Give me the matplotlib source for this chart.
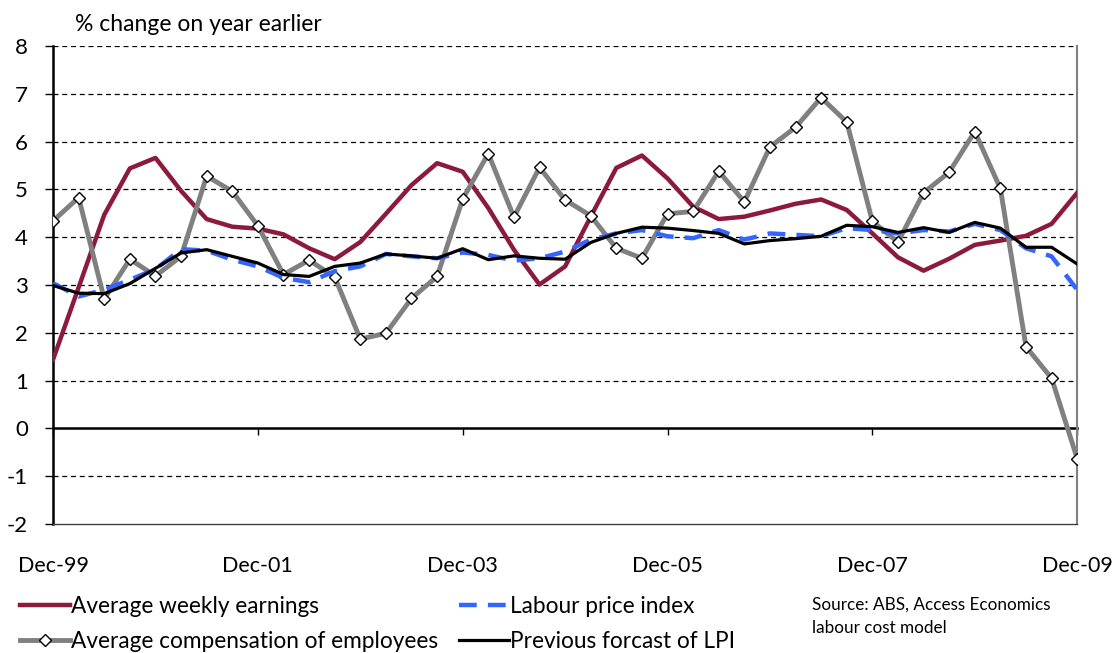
import matplotlib
matplotlib.use("Agg")
import matplotlib.pyplot as plt
import numpy as np

plt.rcParams['font.family'] = ['Lato', 'DejaVu Sans']
plt.rcParams['axes.unicode_minus'] = False

# quarterly, Dec-99 .. Dec-09
quarters = np.arange(41)
tick_pos = [0, 8, 16, 24, 32, 40]
tick_labels = ["Dec-99", "Dec-01", "Dec-03", "Dec-05", "Dec-07", "Dec-09"]

awe = [1.44, 2.95, 4.47, 5.44, 5.66, 4.97, 4.38, 4.22, 4.18, 4.06,
       3.77, 3.54, 3.90, 4.49, 5.09, 5.55, 5.37, 4.61, 3.74, 3.01,
       3.39, 4.43, 5.45, 5.71, 5.23, 4.64, 4.38, 4.43, 4.56, 4.70,
       4.79, 4.57, 4.08, 3.58, 3.30, 3.55, 3.84, 3.93, 4.03, 4.28, 4.93]

lpi = [3.04, 2.76, 2.90, 3.11, 3.33, 3.75, 3.72, 3.53, 3.39, 3.15,
       3.06, 3.29, 3.39, 3.65, 3.60, 3.56, 3.68, 3.63, 3.51, 3.56,
       3.70, 3.95, 4.08, 4.15, 4.02, 3.98, 4.15, 3.95, 4.08, 4.05,
       4.02, 4.19, 4.15, 4.08, 4.15, 4.12, 4.28, 4.15, 3.77, 3.60, 2.90]

ace = [4.34, 4.83, 2.71, 3.54, 3.19, 3.60, 5.28, 4.96, 4.24, 3.22,
       3.52, 3.17, 1.87, 1.99, 2.72, 3.18, 4.80, 5.75, 4.42, 5.46,
       4.78, 4.45, 3.77, 3.56, 4.49, 4.54, 5.38, 4.74, 5.89, 6.30,
       6.92, 6.41, 4.33, 3.90, 4.93, 5.36, 6.21, 5.02, 1.71, 1.05, -0.63]

prev_lpi = [2.99, 2.83, 2.82, 3.03, 3.35, 3.67, 3.74, 3.60, 3.46, 3.22,
            3.18, 3.39, 3.46, 3.65, 3.61, 3.56, 3.76, 3.53, 3.61, 3.56,
            3.54, 3.89, 4.08, 4.21, 4.19, 4.14, 4.08, 3.86, 3.93, 3.97,
            4.02, 4.25, 4.22, 4.10, 4.20, 4.10, 4.31, 4.19, 3.79, 3.79, 3.44]

fig = plt.figure(figsize=(11.12, 6.53), dpi=100)
ax = fig.add_axes([0.0477, 0.1975, 0.921, 0.732])

l_awe, = ax.plot(quarters, awe, color="#8B1A3C", lw=3.2, zorder=3,
                 label="Average weekly earnings")
l_ace, = ax.plot(quarters, ace, color="#808080", lw=3.5, marker="D", ms=6.5,
                 mfc="white", mec="black", mew=1.0, zorder=4,
                 label="Average compensation of employees")
l_lpi, = ax.plot(quarters, lpi, color="#3366FF", lw=3.2, ls=(0, (4, 2.5)),
                 zorder=5, label="Labour price index")
l_prev, = ax.plot(quarters, prev_lpi, color="black", lw=2.3, zorder=6,
                  label="Previous forcast of LPI")

ax.set_xlim(0, 40)
ax.set_ylim(-2, 8)
ax.set_yticks(range(-2, 9))
ax.tick_params(axis="y", labelsize=16, length=6, width=1, direction="out", pad=12)
for g in range(-1, 9):
    if g != 0:
        ax.axhline(g, color="black", lw=0.9, ls=(0, (4, 3)), zorder=1)

ax.set_xticks(tick_pos)
ax.set_xticklabels(tick_labels, fontsize=15.5)
ax.tick_params(axis="x", length=0, pad=23)

# zero line carries the category ticks
sec = ax.secondary_xaxis(0.2)
sec.set_xticks(tick_pos)
sec.set_xticklabels([])
sec.tick_params(length=5, width=1, direction="out")
sec.spines["bottom"].set_linewidth(1.8)
sec.spines["bottom"].set_color("black")

ax.spines["top"].set_visible(False)
ax.spines["left"].set_linewidth(1.8)
ax.spines["right"].set_color("#808080")
ax.spines["right"].set_linewidth(1.5)
ax.spines["bottom"].set_color("#404040")
ax.spines["bottom"].set_linewidth(1.0)

fig.text(0.067, 0.962, "% change on year earlier", fontsize=16.5, va="center")

fig.legend(handles=[l_awe, l_ace, l_lpi, l_prev], ncol=2, loc="upper left",
           bbox_to_anchor=(0.0, 0.118), frameon=False, fontsize=16.3,
           handlelength=2.2, handletextpad=0.05, columnspacing=0.9,
           labelspacing=0.6, borderpad=0.4)

fig.text(0.73, 0.031, "Source: ABS, Access Economics\nlabour cost model",
         fontsize=12.3, linespacing=1.55)

fig.savefig("out.png", dpi=100)
